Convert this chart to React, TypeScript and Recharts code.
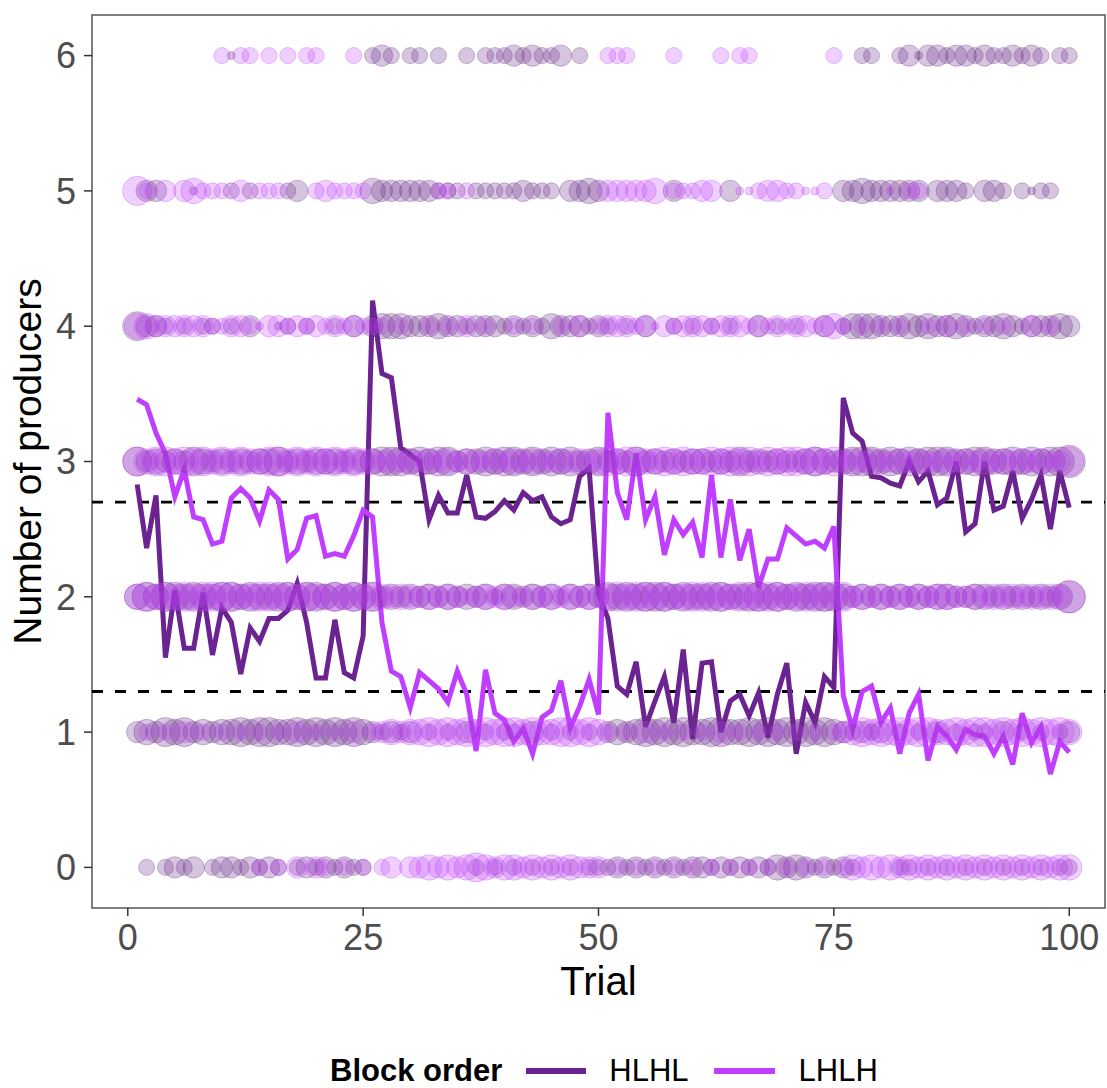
import React from 'react'
import { ComposedChart, Line, Scatter, XAxis, YAxis, ZAxis, ReferenceLine, ReferenceArea } from 'recharts'

const trials = Array.from({ length: 100 }, (_, i) => i + 1)

// mean number of producers per trial
const hlhlMean = [
  2.83, 2.36, 2.75, 1.55, 2.05, 1.62, 1.62, 2.03, 1.57, 1.92,
  1.81, 1.43, 1.77, 1.67, 1.84, 1.84, 1.9, 2.1, 1.81, 1.4,
  1.4, 1.83, 1.44, 1.4, 1.71, 4.19, 3.65, 3.62, 3.1, 3.05,
  3.0, 2.57, 2.75, 2.62, 2.62, 2.9, 2.59, 2.58, 2.63, 2.71,
  2.64, 2.77, 2.71, 2.74, 2.59, 2.54, 2.57, 2.89, 2.95, 2.02,
  1.84, 1.34, 1.28, 1.52, 1.04, 1.23, 1.41, 1.07, 1.61, 0.95,
  1.51, 1.52, 1.0, 1.23, 1.28, 1.12, 1.29, 0.96, 1.28, 1.51,
  0.84, 1.22, 1.07, 1.41, 1.33, 3.47, 3.21, 3.15, 2.89, 2.88,
  2.84, 2.82, 3.0, 2.85, 2.93, 2.68, 2.73, 3.0, 2.48, 2.54,
  3.0, 2.64, 2.67, 2.93, 2.58, 2.72, 2.9, 2.5, 2.93, 2.66,
]
const lhlhMean = [
  3.46, 3.42, 3.21, 3.06, 2.74, 2.94, 2.59, 2.57, 2.39, 2.41,
  2.73, 2.8, 2.73, 2.56, 2.79, 2.72, 2.28, 2.35, 2.58, 2.6,
  2.3, 2.32, 2.3, 2.45, 2.64, 2.59, 1.81, 1.45, 1.41, 1.18,
  1.44, 1.38, 1.32, 1.22, 1.45, 1.28, 0.86, 1.46, 1.14, 1.09,
  0.93, 1.03, 0.84, 1.11, 1.16, 1.38, 1.03, 1.19, 1.39, 1.13,
  3.36, 2.77, 2.57, 3.06, 2.57, 2.74, 2.31, 2.57, 2.46, 2.55,
  2.29, 2.9, 2.29, 2.72, 2.27, 2.5, 2.07, 2.28, 2.28, 2.51,
  2.45, 2.39, 2.41, 2.36, 2.52, 1.27, 1.02, 1.3, 1.34, 1.07,
  1.18, 0.84, 1.14, 1.28, 0.79, 1.04, 0.97, 0.87, 1.02, 0.98,
  0.97, 0.84, 0.97, 0.76, 1.14, 0.92, 1.04, 0.69, 0.93, 0.85,
]

// bubble size per trial (0 = none), one string per level 0..6, ten trials per block
const hlhlBubbles = [
  '0202323023 3232320232 3232200000 0000002020 2020202022 2323232323 3232323243 4323232000 0220202020 2020202022',
  '3435453434 4545544545 4545432323 0202030202 2030202020 3434545454 4554454545 4545432323 0202030202 2030202023',
  '4545545445 5454455455 4545453434 3434343424 4343424343 5454555454 4554455454 5455543434 3434344334 4343434346',
  '5343435434 3434453434 4434345554 5455344545 5454545345 3435343434 4343534343 3454345554 5454555445 5445454556',
  '5332020220 2030012020 0203034443 3343323332 3232433323 2020300202 0202003020 2003024443 3343433432 3343233343',
  '0330001000 2020002300 0000043333 3322202222 2322203343 0000000300 0003000000 0000033433 3333033320 3320212200',
  '0000000000 1000000000 0000023202 2020020222 3232230200 0000000000 0000000000 0000000220 0231332332 3223232022',
]
const lhlhBubbles = [
  '0000000000 0002020303 2020202303 3434345434 4343434333 0202020202 0202020202 0202024343 4343434343 4343434344',
  '0202030202 0202020302 0203023434 4545454545 5454455454 2020302020 2030202020 2020234545 4545544545 5454545454',
  '4545454555 5445545454 4545454343 3434323434 3243434343 4545545445 5454545554 4545453434 3434344334 3434343436',
  '5455454545 4544554545 4545443434 3434343343 4343343434 5455445454 4545453545 5454534343 3434334343 4343434335',
  '4433333322 3321332323 2323222020 0202030200 2020020302 3332313233 3233323232 3323420202 0200203020 2020030200',
  '5203034222 0302220002 3222200000 0022020000 0000000000 3333340222 3300112332 2112000000 1022000000 0000000000',
  '0000000002 0220202022 0002000000 0000000000 0000000000 2220000200 0020220000 0000200000 0000000000 0000000000',
]

const thresholds = [2.7, 1.3]
const xTicks = [0, 25, 50, 75, 100]
const yTicks = [0, 1, 2, 3, 4, 5, 6]

const HLHL = '#6B2391'
const LHLH = '#C03EFF'

const lineData = trials.map((t, i) => ({ trial: t, hlhl: hlhlMean[i], lhlh: lhlhMean[i] }))

function toPoints(rows: string[]) {
  const pts: { trial: number; level: number; z: number }[] = []
  rows.forEach((row, level) => {
    row.replace(/\s/g, '').split('').map(Number).forEach((z, i) => {
      if (z > 0) pts.push({ trial: trials[i], level, z })
    })
  })
  return pts
}

const hlhlPts = toPoints(hlhlBubbles)
const lhlhPts = toPoints(lhlhBubbles)

const font = '"Liberation Sans", Arial, sans-serif'

export default function App() {
  return (
    <div style={{ position: 'absolute', left: 0, top: 0, width: 1107, height: 1088, background: '#fff', fontFamily: font, overflow: 'hidden' }}>
      <ComposedChart width={1107} height={1088} data={lineData} margin={{ top: 15, right: 2, bottom: 126, left: 0 }}>
        <XAxis
          dataKey="trial"
          type="number"
          domain={[-3.8, 103.8]}
          ticks={xTicks}
          allowDataOverflow
          height={54}
          axisLine={false}
          tickSize={8}
          tickMargin={8}
          tickLine={{ stroke: '#333', strokeWidth: 1.5 }}
          tick={{ fill: '#4d4d4d', fontSize: 36 }}
          label={{ value: 'Trial', position: 'bottom', offset: 5, fill: '#000', fontSize: 40 }}
        />
        <YAxis
          type="number"
          domain={[-0.3, 6.3]}
          ticks={yTicks}
          allowDataOverflow
          width={92}
          axisLine={false}
          tickSize={8}
          tickMargin={8}
          tickLine={{ stroke: '#333', strokeWidth: 1.5 }}
          tick={{ fill: '#4d4d4d', fontSize: 36 }}
          label={{ value: 'Number of producers', angle: -90, position: 'center', dx: -19, fill: '#000', fontSize: 39 }}
        />
        <ZAxis dataKey="z" type="number" domain={[1, 6]} range={[50, 820]} />
        <Scatter data={hlhlPts} dataKey="level" fill="#6B2D8A" fillOpacity={0.28} stroke="#6B2D8A" strokeOpacity={0.3} strokeWidth={1} isAnimationActive={false} />
        <Scatter data={lhlhPts} dataKey="level" fill="#C040FB" fillOpacity={0.25} stroke="#C040FB" strokeOpacity={0.3} strokeWidth={1} isAnimationActive={false} />
        {thresholds.map((v) => (
          <ReferenceLine key={v} y={v} stroke="#000" strokeWidth={2.8} strokeDasharray="11 12" />
        ))}
        <Line type="linear" dataKey="hlhl" stroke={HLHL} strokeWidth={5} dot={false} activeDot={false} isAnimationActive={false} />
        <Line type="linear" dataKey="lhlh" stroke={LHLH} strokeWidth={5} dot={false} activeDot={false} isAnimationActive={false} />
        <ReferenceArea x1={-3.8} x2={103.8} y1={-0.3} y2={6.3} fill="none" stroke="#555" strokeWidth={1.5} />
      </ComposedChart>
      <div style={{ position: 'absolute', left: 330, top: 1055, display: 'flex', alignItems: 'center', fontSize: 31, lineHeight: '31px', color: '#000' }}>
        <span style={{ fontWeight: 'bold' }}>Block order</span>
        <span style={{ display: 'inline-block', width: 60, height: 6, background: HLHL, marginLeft: 24, marginRight: 23 }} />
        <span>HLHL</span>
        <span style={{ display: 'inline-block', width: 61, height: 6, background: LHLH, marginLeft: 25, marginRight: 24 }} />
        <span>LHLH</span>
      </div>
    </div>
  )
}
